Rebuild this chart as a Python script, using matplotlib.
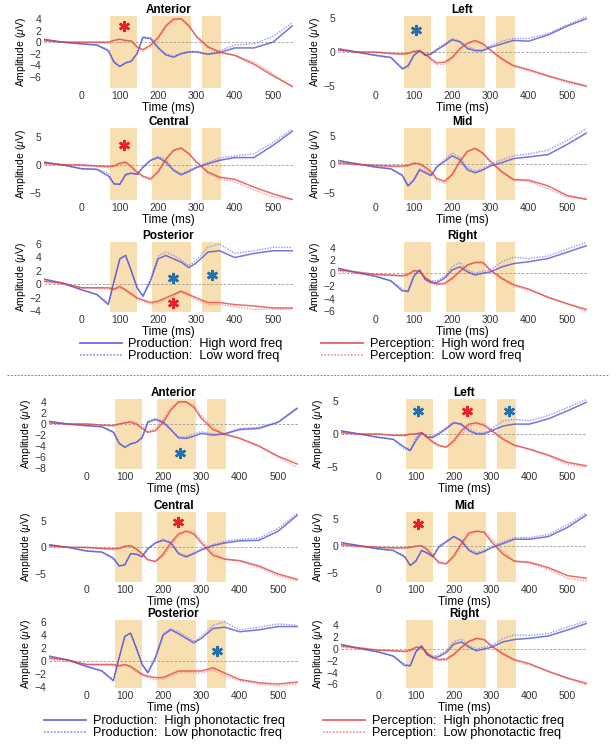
import matplotlib.pyplot as plt
from matplotlib.lines import Line2D

plt.rcParams['font.family'] = ['Liberation Sans', 'DejaVu Sans']
plt.rcParams['mathtext.fontset'] = 'custom'
plt.rcParams['mathtext.it'] = 'Liberation Sans:italic'

t_ms = [-100, -50, 0, 40, 70, 85, 100, 115, 130, 145, 160, 180, 200, 220,
        240, 260, 280, 300, 330, 360, 400, 450, 500, 550]

# analysis windows (ms)
win_start = [75, 185, 315]
win_end = [145, 285, 365]

# ---- word frequency (top half) ----
# ph = production high, pl = production low, rh = perception high, rl = perception low
wf_ant_ph = [0.5, 0.0, -0.3, -0.5, -1.5, -3.5, -4.2, -3.6, -3.3, -2.0, 0.8, 0.6, -1.0, -2.2, -2.6, -2.0, -1.7, -1.7, -2.1, -1.8, -1.0, -1.0, 0.0, 2.8]
wf_ant_pl = [0.5, 0.0, -0.3, -0.5, -1.3, -3.3, -4.1, -3.5, -3.2, -1.8, 0.9, 0.8, -0.8, -2.0, -2.4, -1.9, -1.6, -1.6, -2.0, -1.5, -0.5, -0.3, 1.0, 3.3]
wf_ant_rh = [0.3, 0.0, 0.0, 0.0, 0.0, 0.3, 0.5, 0.3, 0.2, -0.8, -1.3, -0.5, 0.8, 2.8, 4.0, 4.0, 2.8, 1.0, -0.8, -1.7, -2.3, -3.8, -5.8, -7.6]
wf_ant_rl = [0.2, 0.0, -0.1, -0.1, -0.2, 0.0, 0.0, 0.1, 0.0, -1.0, -1.6, -0.8, 0.5, 2.5, 3.6, 4.2, 3.0, 0.8, -1.0, -1.9, -2.2, -3.5, -5.5, -7.8]

wf_left_ph = [0.5, 0.0, -0.5, -0.8, -2.5, -2.0, -0.5, 0.2, -0.5, -0.3, 0.3, 1.0, 1.8, 1.5, 0.5, 0.2, 0.2, 0.7, 1.2, 1.7, 1.6, 2.5, 3.8, 4.9]
wf_left_pl = [0.5, 0.0, -0.5, -0.8, -2.3, -2.3, -0.5, 0.2, -0.4, -0.2, 0.5, 1.2, 2.0, 1.6, 0.8, 0.3, 0.3, 0.9, 1.6, 2.0, 2.0, 2.7, 4.0, 5.2]
wf_left_rh = [0.3, 0.0, 0.0, -0.2, -0.3, -0.2, 0.1, 0.2, -0.3, -1.0, -1.6, -1.5, -0.8, 0.5, 1.3, 1.7, 1.2, 0.3, -1.0, -2.0, -2.6, -3.5, -4.3, -5.0]
wf_left_rl = [0.2, 0.0, -0.1, -0.3, -0.4, -0.3, 0.0, 0.1, -0.5, -1.2, -1.9, -1.8, -1.0, 0.3, 1.2, 1.5, 1.3, 0.2, -1.2, -2.1, -2.8, -3.6, -4.5, -5.1]

wf_cen_ph = [0.5, 0.0, -0.7, -0.8, -2.0, -3.4, -3.5, -1.8, -1.5, -1.7, -0.5, 0.8, 1.3, 0.5, -1.0, -1.8, -1.2, -0.5, 0.2, 0.8, 1.3, 1.3, 3.5, 6.0]
wf_cen_pl = [0.5, 0.0, -0.7, -0.8, -1.5, -3.5, -3.4, -1.6, -1.4, -1.8, -0.3, 0.8, 1.5, 1.0, -0.8, -1.6, -1.0, -0.3, 0.4, 1.2, 1.6, 2.0, 4.0, 6.4]
wf_cen_rh = [0.3, 0.0, 0.0, -0.2, -0.3, -0.2, 0.3, 0.5, -0.3, -1.3, -2.0, -2.5, -1.2, 1.0, 2.6, 3.0, 2.0, 0.5, -1.3, -2.2, -2.6, -4.0, -5.2, -6.2]
wf_cen_rl = [0.1, 0.0, -0.2, -0.3, -0.5, -0.4, 0.0, 0.3, -0.5, -1.5, -2.2, -2.8, -1.5, 0.7, 2.5, 3.0, 2.0, 0.5, -1.5, -2.5, -3.0, -4.5, -5.7, -6.2]

wf_mid_ph = [0.7, 0.1, -0.5, -0.8, -2.0, -3.8, -2.8, -1.0, -1.5, -2.0, -0.5, 0.5, 1.5, 0.8, -1.0, -1.5, -1.0, -0.3, 0.3, 1.0, 1.3, 1.7, 3.5, 5.5]
wf_mid_pl = [0.7, 0.1, -0.5, -0.8, -1.8, -3.8, -2.6, -0.8, -1.3, -1.9, -0.3, 0.8, 2.0, 1.2, -0.6, -1.2, -0.8, 0.0, 0.8, 1.5, 1.8, 2.5, 4.2, 6.3]
wf_mid_rh = [0.3, 0.0, -0.2, -0.3, -0.3, -0.2, 0.2, 0.1, -0.5, -1.3, -2.5, -3.0, -1.8, 0.5, 2.3, 2.8, 2.0, 0.5, -1.3, -2.7, -2.8, -3.8, -5.5, -6.2]
wf_mid_rl = [0.1, -0.1, -0.3, -0.4, -0.5, -0.3, 0.0, 0.0, -0.8, -1.6, -2.9, -3.3, -2.0, 0.3, 2.2, 2.8, 1.8, 0.3, -1.5, -2.8, -3.0, -4.3, -5.8, -6.0]

wf_post_ph = [0.8, 0.2, -0.8, -1.5, -3.0, 0.5, 3.8, 4.3, 2.0, -0.5, -1.8, 0.5, 3.8, 4.3, 3.8, 3.3, 2.5, 3.2, 4.8, 5.0, 4.0, 4.6, 5.0, 5.0]
wf_post_pl = [0.8, 0.2, -0.8, -1.5, -2.8, 0.6, 3.8, 4.3, 2.0, -0.4, -1.6, 0.8, 4.2, 4.8, 4.3, 3.6, 2.8, 3.6, 5.5, 6.0, 4.6, 5.0, 5.5, 5.5]
wf_post_rh = [0.5, 0.2, -0.5, -0.5, -0.5, -0.7, -0.3, -0.8, -1.4, -2.0, -2.3, -2.7, -2.5, -2.0, -1.5, -1.0, -1.5, -2.0, -2.7, -2.7, -3.0, -3.2, -3.5, -3.5]
wf_post_rl = [0.3, 0.0, -0.5, -0.6, -0.7, -0.8, -0.5, -1.0, -1.6, -2.2, -2.5, -2.9, -2.8, -2.3, -1.8, -1.2, -1.7, -2.3, -3.0, -3.0, -3.3, -3.7, -3.7, -3.7]

wf_right_ph = [0.8, 0.1, -0.5, -1.2, -2.8, -2.8, -0.5, 0.5, -1.0, -1.5, -1.5, -0.8, 0.5, 1.0, 0.2, -0.3, 0.0, 0.2, 1.0, 1.5, 1.8, 2.3, 3.3, 4.3]
wf_right_pl = [0.8, 0.1, -0.5, -1.2, -2.5, -3.0, -0.3, 0.5, -1.0, -1.2, -1.2, -0.5, 1.0, 1.7, 0.5, 0.0, 0.3, 0.5, 1.8, 2.5, 2.3, 2.7, 3.8, 4.8]
wf_right_rh = [0.5, 0.2, -0.2, -0.3, -0.4, -0.2, 0.4, 0.3, -0.7, -1.3, -1.7, -1.6, -0.8, 0.3, 1.3, 1.7, 1.7, 0.5, -0.8, -1.8, -2.5, -3.8, -4.8, -5.7]
wf_right_rl = [0.3, 0.0, -0.2, -0.3, -0.5, -0.4, 0.2, 0.2, -0.8, -1.5, -1.9, -1.8, -1.0, 0.2, 1.2, 1.6, 1.5, 0.3, -1.0, -2.0, -2.7, -3.7, -4.8, -6.0]

# ---- phonotactic frequency (bottom half) ----
pf_ant_ph = [0.5, 0.0, -0.3, -0.5, -1.5, -3.5, -4.2, -3.6, -3.3, -2.5, 0.3, 0.8, 0.3, -1.0, -2.5, -2.6, -2.2, -1.7, -2.0, -1.8, -1.0, -0.8, 0.3, 2.8]
pf_ant_pl = [0.5, 0.0, -0.3, -0.5, -1.3, -3.3, -4.2, -3.5, -3.3, -2.2, 0.6, 1.0, 0.5, -1.0, -2.3, -2.3, -1.8, -1.4, -1.8, -1.7, -0.8, -0.6, 0.4, 3.0]
pf_ant_rh = [0.2, 0.0, 0.0, -0.2, -0.3, 0.0, 0.2, 0.3, 0.0, -0.8, -1.5, -1.2, 0.3, 2.5, 4.0, 4.0, 3.0, 1.0, -1.0, -1.8, -2.6, -4.0, -5.8, -7.2]
pf_ant_rl = [0.2, 0.0, 0.0, -0.2, -0.3, 0.0, 0.3, 0.5, 0.3, -0.5, -1.3, -0.8, 0.8, 3.0, 3.8, 3.8, 3.5, 1.5, -0.5, -2.0, -2.5, -3.8, -6.0, -7.8]

pf_left_ph = [0.5, 0.0, -0.5, -0.8, -2.0, -2.5, -1.0, 0.2, -0.5, -0.5, 0.0, 0.8, 1.7, 1.5, 0.5, 0.0, 0.0, 0.5, 1.2, 1.5, 1.5, 2.3, 3.5, 4.8]
pf_left_pl = [0.5, 0.0, -0.5, -0.8, -2.3, -2.5, -0.5, 0.2, -0.5, -0.3, 0.2, 1.0, 1.8, 1.3, 0.8, 0.2, 0.2, 0.8, 2.0, 2.2, 2.0, 2.8, 4.0, 5.2]
pf_left_rh = [0.2, 0.0, 0.0, -0.2, -0.2, 0.0, 0.0, 0.2, -0.5, -1.2, -1.7, -2.0, -1.0, 0.5, 1.5, 1.7, 1.3, 0.5, -0.8, -1.7, -2.3, -3.2, -4.3, -4.8]
pf_left_rl = [0.2, 0.0, 0.0, -0.2, -0.3, -0.1, 0.0, 0.2, -0.6, -1.4, -1.9, -2.0, -1.3, 0.0, 1.2, 1.5, 1.6, 0.7, -0.6, -1.7, -2.3, -3.3, -4.6, -5.0]

pf_cen_ph = [0.5, 0.0, -0.7, -0.9, -2.0, -3.5, -3.3, -1.2, -1.3, -1.8, -0.3, 0.8, 1.3, 0.8, -1.2, -1.8, -1.2, -0.5, 0.3, 0.8, 1.2, 1.3, 3.0, 6.0]
pf_cen_pl = [0.5, 0.0, -0.7, -0.9, -2.3, -3.5, -3.2, -1.2, -1.3, -1.6, -0.2, 0.9, 1.5, 1.0, -1.0, -1.6, -1.0, -0.3, 0.5, 1.1, 1.5, 1.7, 3.5, 6.3]
pf_cen_rh = [0.3, 0.0, 0.0, -0.2, -0.3, -0.2, 0.2, 0.3, -0.3, -1.2, -2.3, -2.7, -1.3, 0.8, 2.5, 3.0, 2.5, 0.8, -1.5, -2.2, -2.5, -3.5, -5.0, -6.0]
pf_cen_rl = [0.2, 0.0, -0.2, -0.3, -0.5, -0.3, 0.0, 0.2, -0.5, -1.5, -2.5, -2.5, -1.8, 0.3, 2.0, 3.0, 3.0, 1.3, -1.0, -2.3, -2.6, -3.8, -5.3, -6.3]

pf_mid_ph = [0.7, 0.1, -0.5, -0.8, -2.0, -3.6, -2.8, -0.8, -1.3, -2.0, -0.2, 0.8, 1.8, 1.0, -0.8, -1.5, -1.0, -0.3, 0.5, 1.3, 1.3, 1.8, 3.5, 5.8]
pf_mid_pl = [0.7, 0.1, -0.5, -0.8, -1.8, -3.6, -2.6, -0.7, -1.2, -1.8, 0.0, 1.0, 1.8, 1.2, -0.5, -1.2, -0.8, 0.0, 0.8, 1.6, 1.6, 2.2, 4.0, 6.2]
pf_mid_rh = [0.3, 0.0, -0.2, -0.3, -0.3, -0.2, 0.0, 0.1, -0.6, -1.8, -3.0, -3.3, -1.8, 0.5, 2.5, 2.8, 2.6, 0.8, -1.5, -2.8, -3.0, -4.0, -5.5, -6.0]
pf_mid_rl = [0.2, -0.1, -0.3, -0.4, -0.5, -0.3, 0.0, 0.0, -0.8, -2.0, -3.2, -3.3, -2.2, 0.0, 2.0, 2.8, 2.8, 1.3, -1.0, -2.8, -3.2, -4.3, -6.0, -6.5]

pf_post_ph = [0.8, 0.2, -0.8, -1.5, -3.0, 0.5, 3.8, 4.3, 2.0, -0.5, -1.8, 0.5, 4.0, 4.8, 4.2, 3.5, 2.8, 3.5, 5.0, 5.2, 4.5, 4.8, 5.3, 5.3]
pf_post_pl = [0.8, 0.2, -0.8, -1.5, -2.8, 0.6, 3.8, 4.3, 2.0, -0.4, -1.6, 0.8, 4.2, 5.0, 4.5, 3.8, 3.0, 3.8, 5.5, 6.0, 4.8, 5.2, 5.7, 5.5]
pf_post_rh = [0.5, 0.2, -0.5, -0.5, -0.5, -0.7, -0.5, -0.8, -1.4, -2.0, -2.3, -2.5, -2.5, -2.0, -1.5, -1.5, -1.5, -1.5, -1.0, -1.8, -2.8, -3.3, -3.5, -3.2]
pf_post_rl = [0.3, 0.0, -0.5, -0.6, -0.7, -0.8, -0.6, -1.0, -1.6, -2.2, -2.5, -2.8, -2.8, -2.3, -1.8, -1.7, -1.8, -1.8, -1.3, -2.2, -3.0, -3.5, -3.8, -3.5]

pf_right_ph = [0.8, 0.1, -0.5, -1.2, -2.8, -2.8, -0.5, 0.5, -1.0, -1.5, -1.3, -0.6, 0.8, 1.2, 0.3, -0.3, 0.0, 0.3, 1.2, 1.6, 1.8, 2.2, 3.2, 4.3]
pf_right_pl = [0.8, 0.1, -0.5, -1.2, -2.5, -3.0, -0.3, 0.5, -0.9, -1.2, -1.0, -0.3, 1.2, 1.7, 0.6, 0.0, 0.3, 0.6, 1.8, 2.4, 2.3, 2.6, 3.7, 4.7]
pf_right_rh = [0.5, 0.2, -0.2, -0.3, -0.4, -0.2, 0.3, 0.3, -0.7, -1.4, -1.8, -1.7, -0.9, 0.3, 1.3, 1.8, 1.6, 0.5, -0.8, -1.8, -2.5, -3.8, -4.9, -5.8]
pf_right_rl = [0.3, 0.0, -0.2, -0.3, -0.5, -0.4, 0.1, 0.1, -0.9, -1.6, -2.0, -1.9, -1.1, 0.1, 1.2, 1.6, 1.5, 0.3, -1.0, -2.0, -2.7, -3.8, -5.0, -6.1]

# significance markers: (time, amplitude, colour key)
wf_ant_stars = [(110, 2.7, 'r')]
wf_left_stars = [(105, 3.3, 'b')]
wf_cen_stars = [(110, 3.5, 'r')]
wf_mid_stars = []
wf_post_stars = [(240, 1.0, 'b'), (340, 1.4, 'b'), (240, -2.8, 'r')]
wf_right_stars = []
pf_ant_stars = [(245, -5.3, 'b')]
pf_left_stars = [(105, 3.5, 'b'), (235, 3.5, 'r'), (345, 3.5, 'b')]
pf_cen_stars = [(240, 4.8, 'r')]
pf_mid_stars = [(105, 4.2, 'r')]
pf_post_stars = [(340, 1.6, 'b')]
pf_right_stars = []

PROD_HI = '#4848d0'
PROD_LO = '#8c8cee'
PERC_HI = '#e03c3c'
PERC_LO = '#f09090'
STAR = {'r': '#e8202a', 'b': '#2370b0'}
SHADE = '#f7dfb2'

W, H = 616, 750
fig = plt.figure(figsize=(W / 100, H / 100), dpi=100)


def axes_px(x0, y0, x1, y1):
    return fig.add_axes([x0 / W, 1 - y1 / H, (x1 - x0) / W, (y1 - y0) / H])


def draw_panel(ax, title, ph, pl, rh, rl, ylim, yticks, stars):
    for s, e in zip(win_start, win_end):
        ax.axvspan(s, e, color=SHADE, lw=0, zorder=0)
    ax.axhline(0, color='#9a9a9a', ls='--', lw=0.6, dashes=(3, 2), zorder=1)
    ax.plot(t_ms, pl, color=PROD_LO, lw=1.0, ls=(0, (1, 1)), alpha=0.9, zorder=2)
    ax.plot(t_ms, rl, color=PERC_LO, lw=1.0, ls=(0, (1, 1)), alpha=0.9, zorder=2)
    ax.plot(t_ms, ph, color=PROD_HI, lw=1.1, alpha=0.75, zorder=3)
    ax.plot(t_ms, rh, color=PERC_HI, lw=1.1, alpha=0.75, zorder=3)
    for (st, sv, c) in stars:
        ax.plot(st, sv, marker=(6, 2, 0), ms=8, mew=1.8, color=STAR[c], zorder=4)
    ax.set_xlim(-98, 552)
    ax.set_ylim(*ylim)
    ax.set_xticks([0, 100, 200, 300, 400, 500])
    ax.set_yticks(yticks)
    ax.tick_params(length=0, labelsize=7.5, colors='#333333', pad=2)
    for sp in ax.spines.values():
        sp.set_visible(False)
    ax.set_title(title, fontsize=8.5, fontweight='bold', pad=2)
    ax.set_xlabel('Time (ms)', fontsize=8.5, labelpad=1)
    ax.set_ylabel(r'Amplitude ($\mu$V)', fontsize=7.5, labelpad=1)


# top half: word frequency
ax = axes_px(44, 16, 293, 88)
draw_panel(ax, 'Anterior', wf_ant_ph, wf_ant_pl, wf_ant_rh, wf_ant_rl, (-7.9, 4.5), [-6, -4, -2, 0, 2, 4], wf_ant_stars)
ax = axes_px(338, 16, 587, 88)
draw_panel(ax, 'Left', wf_left_ph, wf_left_pl, wf_left_rh, wf_left_rl, (-5.3, 5.3), [-5, 0, 5], wf_left_stars)
ax = axes_px(44, 128, 293, 200)
draw_panel(ax, 'Central', wf_cen_ph, wf_cen_pl, wf_cen_rh, wf_cen_rl, (-6.3, 6.6), [-5, 0, 5], wf_cen_stars)
ax = axes_px(338, 128, 587, 200)
draw_panel(ax, 'Mid', wf_mid_ph, wf_mid_pl, wf_mid_rh, wf_mid_rl, (-6.3, 6.4), [-5, 0, 5], wf_mid_stars)
ax = axes_px(44, 242, 293, 312)
draw_panel(ax, 'Posterior', wf_post_ph, wf_post_pl, wf_post_rh, wf_post_rl, (-4.1, 6.3), [-4, -2, 0, 2, 4, 6], wf_post_stars)
ax = axes_px(338, 242, 587, 312)
draw_panel(ax, 'Right', wf_right_ph, wf_right_pl, wf_right_rh, wf_right_rl, (-6.1, 4.9), [-6, -4, -2, 0, 2, 4], wf_right_stars)

# bottom half: phonotactic frequency
ax = axes_px(49, 399, 298, 469)
draw_panel(ax, 'Anterior', pf_ant_ph, pf_ant_pl, pf_ant_rh, pf_ant_rl, (-8.1, 4.5), [-8, -6, -4, -2, 0, 2, 4], pf_ant_stars)
ax = axes_px(341, 399, 587, 469)
draw_panel(ax, 'Left', pf_left_ph, pf_left_pl, pf_left_rh, pf_left_rl, (-5.3, 5.3), [-5, 0, 5], pf_left_stars)
ax = axes_px(49, 512, 298, 582)
draw_panel(ax, 'Central', pf_cen_ph, pf_cen_pl, pf_cen_rh, pf_cen_rl, (-6.5, 6.6), [-5, 0, 5], pf_cen_stars)
ax = axes_px(341, 512, 587, 582)
draw_panel(ax, 'Mid', pf_mid_ph, pf_mid_pl, pf_mid_rh, pf_mid_rl, (-6.7, 6.4), [-5, 0, 5], pf_mid_stars)
ax = axes_px(49, 620, 298, 688)
draw_panel(ax, 'Posterior', pf_post_ph, pf_post_pl, pf_post_rh, pf_post_rl, (-4.1, 6.3), [-4, -2, 0, 2, 4, 6], pf_post_stars)
ax = axes_px(341, 620, 587, 688)
draw_panel(ax, 'Right', pf_right_ph, pf_right_pl, pf_right_rh, pf_right_rl, (-6.6, 4.9), [-6, -4, -2, 0, 2, 4], pf_right_stars)


def add_legend(y_center, x_center, kind):
    handles = [
        Line2D([], [], color=PROD_HI, lw=1.3, alpha=0.8),
        Line2D([], [], color=PROD_LO, lw=1.2, ls=(0, (1, 1))),
        Line2D([], [], color=PERC_HI, lw=1.3, alpha=0.8),
        Line2D([], [], color=PERC_LO, lw=1.2, ls=(0, (1, 1))),
    ]
    labels = ['Production:  High %s freq' % kind, 'Production:  Low %s freq' % kind,
              'Perception:  High %s freq' % kind, 'Perception:  Low %s freq' % kind]
    fig.legend(handles, labels, ncol=2, loc='center', bbox_to_anchor=(x_center / W, 1 - y_center / H),
               frameon=False, fontsize=9.2, handlelength=3.3, handletextpad=0.5,
               columnspacing=3.0, labelspacing=0.0, borderpad=0, borderaxespad=0)


add_legend(350, 302, 'word')
add_legend(727, 304, 'phonotactic')

# dashed separator between the two halves
fig.add_artist(Line2D([0.012, 0.988], [1 - 375 / H, 1 - 375 / H], transform=fig.transFigure,
                      color='#888888', lw=0.7, ls='--', dashes=(2, 1.5)))

fig.savefig('out.png', dpi=100, facecolor='white')
